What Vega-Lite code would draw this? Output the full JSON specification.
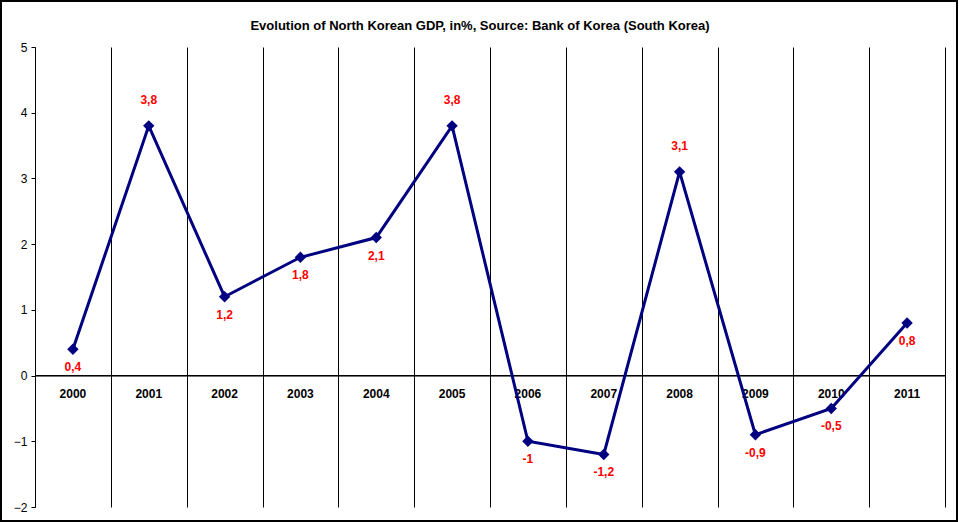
{
  "$schema": "https://vega.github.io/schema/vega-lite/v6.json",
  "autosize": "none",
  "width": 910,
  "height": 460,
  "padding": {"left": 35, "top": 47, "right": 15, "bottom": 15},
  "background": "white",
  "title": {
    "text": "Evolution of North Korean GDP, in%, Source: Bank of Korea (South Korea)",
    "font": "Liberation Sans",
    "fontSize": 13,
    "fontWeight": "bold",
    "color": "black",
    "anchor": "middle",
    "frame": "group",
    "dx": -10,
    "offset": -33
  },
  "config": {
    "view": {"stroke": null},
    "font": "Liberation Sans"
  },
  "data": {
    "values": [
      {"year": "2000", "gdp": 0.4},
      {"year": "2001", "gdp": 3.8},
      {"year": "2002", "gdp": 1.2},
      {"year": "2003", "gdp": 1.8},
      {"year": "2004", "gdp": 2.1},
      {"year": "2005", "gdp": 3.8},
      {"year": "2006", "gdp": -1},
      {"year": "2007", "gdp": -1.2},
      {"year": "2008", "gdp": 3.1},
      {"year": "2009", "gdp": -0.9},
      {"year": "2010", "gdp": -0.5},
      {"year": "2011", "gdp": 0.8}
    ]
  },
  "transform": [
    {"calculate": "replace(toString(datum.gdp), '.', ',')", "as": "lbl"}
  ],
  "encoding": {
    "x": {
      "field": "year",
      "type": "ordinal",
      "scale": {"paddingInner": 0, "paddingOuter": 0},
      "axis": {
        "title": null,
        "labels": false,
        "ticks": false,
        "domain": false,
        "grid": true,
        "tickBand": "extent",
        "gridColor": "black",
        "gridOpacity": 1,
        "gridWidth": 1
      }
    },
    "y": {
      "field": "gdp",
      "type": "quantitative",
      "scale": {"domain": [-2, 5], "nice": false, "zero": false},
      "axis": {
        "title": null,
        "values": [-2, -1, 0, 1, 2, 3, 4, 5],
        "grid": false,
        "domainColor": "black",
        "domainWidth": 1,
        "tickColor": "black",
        "tickSize": 4,
        "tickWidth": 1,
        "labelFont": "Liberation Sans",
        "labelFontSize": 12,
        "labelColor": "black",
        "labelPadding": 4
      }
    }
  },
  "layer": [
    {
      "data": {"values": [{"frame": 1}]},
      "mark": {"type": "rect", "fill": null, "stroke": "black", "strokeWidth": 2},
      "encoding": {
        "x": {"value": -34},
        "x2": {"value": 922},
        "y": {"value": -46},
        "y2": {"value": 474}
      }
    },
    {
      "mark": {"type": "rule", "color": "black", "strokeWidth": 1},
      "encoding": {"y": {"datum": 0}, "x": {"value": 0}, "x2": {"value": "width"}}
    },
    {
      "mark": {"type": "text", "font": "Liberation Sans", "fontSize": 12, "fontWeight": "bold", "color": "black", "baseline": "middle", "dy": 18},
      "encoding": {"y": {"datum": 0}, "text": {"field": "year"}}
    },
    {
      "mark": {"type": "line", "color": "#000080", "strokeWidth": 3}
    },
    {
      "mark": {"type": "point", "shape": "diamond", "filled": true, "color": "#000080", "opacity": 1, "size": 130}
    },
    {
      "transform": [{"filter": "datum.gdp >= 3"}],
      "mark": {"type": "text", "font": "Liberation Sans", "fontSize": 12, "fontWeight": "bold", "color": "#FF0000", "baseline": "middle", "dy": -26},
      "encoding": {"text": {"field": "lbl"}}
    },
    {
      "transform": [{"filter": "datum.gdp < 3"}],
      "mark": {"type": "text", "font": "Liberation Sans", "fontSize": 12, "fontWeight": "bold", "color": "#FF0000", "baseline": "middle", "dy": 18},
      "encoding": {"text": {"field": "lbl"}}
    }
  ]
}
